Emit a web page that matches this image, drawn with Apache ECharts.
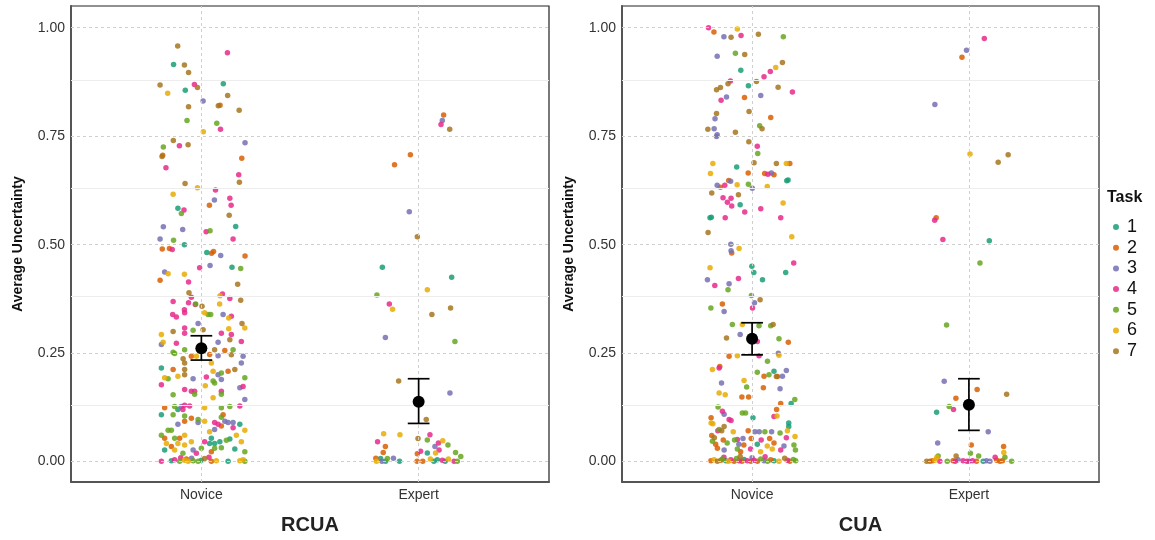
<!DOCTYPE html>
<html>
<head>
<meta charset="utf-8">
<script src="https://cdn.jsdelivr.net/npm/echarts@6/dist/echarts.min.js"></script>
<style>html,body{margin:0;padding:0;background:#fff}#c{width:1155px;height:540px}</style>
</head>
<body>
<div id="c"></div>
<script>
// ---- data ----
const categories = ['Novice', 'Expert'];
const panels = ['RCUA', 'CUA'];
const tasks = ['1', '2', '3', '4', '5', '6', '7'];
const taskColors = ['#1B9E77', '#D95F02', '#7570B3', '#E7298A', '#66A61E', '#E6AB02', '#A6761D'];
const yTicks = [0, 0.25, 0.5, 0.75, 1];
const yMinor = [0.125, 0.375, 0.625, 0.875];

// [jittered x, uncertainty, task]
const rcuaNovice = [
[0.891,0.958,7],[1.120,0.942,4],[0.872,0.915,1],[0.922,0.914,7],[0.941,0.897,7],[0.810,0.868,7],[0.968,0.869,4],[0.982,0.862,7],[1.101,0.871,1],[0.845,0.849,6],[0.926,0.856,1],[1.121,0.844,7],[1.008,0.831,3],[0.941,0.818,7],[1.078,0.820,7],[1.086,0.821,2],[1.174,0.810,7],[0.934,0.786,5],[1.071,0.780,5],[1.088,0.766,4],[1.009,0.760,6],[1.201,0.735,3],[0.871,0.740,7],[0.825,0.725,5],[0.899,0.728,4],[0.939,0.730,7],[0.819,0.703,7],[0.822,0.706,2],[1.186,0.699,2],[0.837,0.677,4],[1.172,0.661,4],[1.175,0.644,7],[0.925,0.641,7],[0.982,0.631,6],[1.065,0.626,4],[0.870,0.616,6],[1.060,0.603,3],[1.131,0.607,4],[1.037,0.591,2],[1.137,0.591,4],[0.892,0.584,1],[0.920,0.580,4],[0.908,0.572,5],[1.128,0.568,7],[0.825,0.541,3],[0.914,0.535,3],[1.158,0.542,1],[1.022,0.530,4],[1.040,0.532,5],[0.810,0.513,3],[0.872,0.510,5],[1.146,0.513,4],[0.922,0.500,1],[0.820,0.490,2],[0.853,0.491,2],[0.866,0.489,4],[1.025,0.482,1],[1.047,0.480,2],[1.056,0.484,2],[1.089,0.475,3],[1.201,0.474,2],[0.992,0.447,4],[1.040,0.452,3],[1.141,0.448,1],[1.181,0.445,5],
[0.831,0.437,3],[0.847,0.433,6],[0.922,0.432,6],[0.810,0.418,2],[0.941,0.414,4],[1.167,0.409,7],[0.943,0.389,7],[0.954,0.379,4],[1.097,0.386,4],[1.086,0.382,6],[1.131,0.376,4],[1.181,0.372,7],[0.941,0.366,4],[0.974,0.363,5],[1.084,0.363,6],
[0.870,0.369,4],[0.972,0.362,4],[1.003,0.358,7],[0.922,0.350,4],[0.868,0.339,4],[0.885,0.333,4],[0.923,0.343,4],[1.015,0.343,6],[1.031,0.339,5],[1.043,0.339,5],[1.100,0.339,3],[1.126,0.331,6],[1.138,0.335,4],[1.187,0.318,7],[1.200,0.308,6],[0.962,0.303,5],[1.008,0.304,7],[0.923,0.308,4],[1.126,0.306,6],[0.985,0.318,3],[0.816,0.293,6],[0.870,0.300,7],[0.923,0.296,4],[1.092,0.296,4],[1.138,0.293,4],[0.824,0.275,6],[0.816,0.270,3],[0.885,0.273,4],[1.077,0.275,3],[1.131,0.281,7],[1.184,0.277,4],[1.061,0.258,7],[1.108,0.256,2],[1.146,0.258,5],[0.923,0.258,5],[0.870,0.252,5],[0.877,0.249,5],[0.954,0.243,2],[0.916,0.237,7],[0.977,0.243,6],[1.038,0.247,2],[1.077,0.244,3],[1.138,0.246,7],[1.192,0.243,3],[1.184,0.227,3],[0.923,0.227,7],[1.046,0.227,6],[0.816,0.216,1],[0.870,0.212,2],[0.923,0.212,7],[1.054,0.208,6],[1.092,0.204,5],[1.123,0.208,2],[1.154,0.212,7],[0.831,0.193,6],[0.847,0.191,5],[0.892,0.197,6],[0.923,0.200,7],[0.962,0.191,3],[1.023,0.195,4],[1.054,0.186,5],[1.077,0.200,3],[1.092,0.189,3],[1.200,0.193,5],[0.816,0.177,4],[1.177,0.170,3],[1.192,0.173,4],[1.018,0.175,6],[1.061,0.181,5],[0.923,0.166,4],[0.954,0.162,4],[0.969,0.162,4],[0.969,0.155,5],[0.870,0.154,5],[1.092,0.162,4],[1.092,0.155,5],[1.200,0.143,3],[1.054,0.147,6],[0.831,0.124,2],[0.877,0.127,5],[0.892,0.120,1],[0.908,0.127,3],[0.923,0.130,4],[0.946,0.128,4],[0.915,0.120,4],[1.015,0.124,6],[1.092,0.124,5],[1.131,0.127,5],[1.177,0.128,4],[0.816,0.108,1],[0.870,0.108,5],[0.923,0.105,5],[0.954,0.100,2],[1.100,0.108,2],[1.092,0.102,5],[0.985,0.097,5],[1.015,0.093,6],[1.061,0.090,4],[1.077,0.086,4],[1.108,0.093,3],[1.123,0.090,3],[1.146,0.090,3],[1.092,0.082,2],[0.985,0.090,3],[0.923,0.093,2],[0.892,0.086,3],[1.177,0.086,1],[1.146,0.078,4],[1.061,0.074,3],[1.038,0.069,6],[1.200,0.072,6],[0.847,0.072,5],[0.862,0.072,5],[0.816,0.061,5],[0.831,0.054,2],[0.877,0.054,5],[0.900,0.054,2],[0.923,0.061,6],[1.046,0.054,1],[1.085,0.046,1],[1.115,0.049,5],[1.131,0.052,1],[1.161,0.061,6],[1.184,0.046,6],[1.015,0.046,4],[1.038,0.042,1],[1.061,0.042,1],[0.839,0.042,6],[0.892,0.042,6],[0.954,0.046,6],[0.923,0.038,6],[0.862,0.035,2],[0.831,0.027,1],[0.877,0.027,6],[0.962,0.027,3],[1.000,0.031,5],[1.061,0.031,5],[1.092,0.032,5],[1.154,0.029,1],[1.200,0.023,5],[0.915,0.019,5],[0.977,0.019,4],[1.046,0.023,2],
[0.816,0.001,4],[0.862,0.002,1],[0.877,0.004,4],[0.900,0.001,5],[0.923,0.003,6],[0.939,0.001,6],[0.962,0.002,5],[0.985,0.001,5],[1.000,0.003,1],[1.046,0.001,2],[1.069,0.002,6],[1.123,0.001,1],[1.177,0.002,6],[1.192,0.004,6],[1.200,0.001,5],[0.931,0.006,2],[0.955,0.008,3],[0.905,0.009,4],[1.015,0.007,7],[1.035,0.010,4]
];
const rcuaExpert = [
[2.115,0.799,2],[2.109,0.786,3],[2.103,0.777,4],[2.143,0.766,7],[1.962,0.707,2],[1.889,0.684,2],[1.957,0.576,3],[1.994,0.518,7],[1.833,0.448,1],
[2.152,0.425,1],[1.808,0.384,5],[2.040,0.396,6],[1.865,0.363,4],[1.880,0.351,6],[2.061,0.339,7],[2.147,0.354,7],[1.847,0.286,3],[2.167,0.277,5],[1.908,0.186,7],[2.144,0.158,3],[2.035,0.097,7],
[1.839,0.064,6],[1.914,0.062,6],[2.052,0.062,4],[1.997,0.053,7],[2.040,0.050,5],[1.811,0.046,4],[2.111,0.048,6],[2.091,0.043,4],[2.135,0.038,5],[1.847,0.035,2],[2.075,0.035,3],[2.094,0.027,4],[1.837,0.021,2],[2.009,0.024,4],[1.994,0.018,2],[2.040,0.020,1],[2.078,0.020,6],[2.170,0.021,5],[2.194,0.012,5],
[1.803,0.008,2],[1.825,0.007,1],[1.856,0.007,5],[1.884,0.008,3],[1.806,0.001,6],[1.831,0.001,3],[1.848,0.001,1],[1.912,0.001,1],[1.993,0.001,2],[2.019,0.001,2],[2.054,0.006,6],[2.070,0.001,1],[2.086,0.004,1],[2.109,0.003,4],[2.137,0.006,6],[2.163,0.001,4],[2.178,0.001,5],[2.122,0.001,1]
];
const cuaNovice = [
[0.799,1.000,4],[0.824,0.990,2],[0.870,0.979,3],[0.903,0.978,7],[0.932,0.997,6],[0.949,0.982,4],[1.029,0.985,7],[1.144,0.979,5],[0.839,0.934,3],[0.923,0.941,5],[0.966,0.938,7],[0.948,0.902,1],[1.140,0.920,7],[1.109,0.908,6],[1.084,0.899,4],[1.055,0.887,4],[1.020,0.876,7],[0.900,0.877,4],[0.889,0.871,7],[0.983,0.866,1],[1.120,0.863,7],[0.854,0.862,7],[0.836,0.857,7],[1.186,0.852,4],[0.882,0.840,3],[0.965,0.839,2],[1.040,0.844,3],[0.857,0.833,4],[0.986,0.807,7],[0.836,0.802,7],[1.086,0.793,2],[0.829,0.790,3],[1.035,0.774,5],[1.046,0.767,7],[0.796,0.766,7],[0.825,0.767,3],[0.839,0.753,3],[0.836,0.749,3],[0.923,0.759,7],[0.985,0.737,7],[1.024,0.727,4],[1.026,0.710,5],
[0.819,0.687,6],[1.009,0.689,7],[1.112,0.687,7],[1.158,0.687,6],[1.174,0.687,2],[0.929,0.679,1],[0.808,0.664,6],[0.982,0.665,2],[1.058,0.664,2],[1.073,0.662,4],[1.089,0.665,3],[1.101,0.661,2],[1.160,0.647,1],[1.166,0.649,1],[0.839,0.637,3],[0.854,0.632,2],[0.874,0.637,4],[0.892,0.648,2],[0.901,0.646,3],[0.931,0.638,6],[0.983,0.639,5],[1.001,0.630,3],[1.070,0.634,6],[0.814,0.619,7],[0.937,0.615,7],[0.866,0.608,4],[0.886,0.598,4],[0.903,0.607,4],[0.906,0.589,4],[0.945,0.592,1],[1.040,0.583,4],[1.143,0.596,6],[0.966,0.575,4],[0.806,0.562,1],[0.812,0.563,1],[0.876,0.562,4],[1.132,0.562,4],[0.797,0.528,7],[1.183,0.518,6],[0.902,0.501,3],[0.940,0.491,6],[0.903,0.486,3],[0.906,0.481,2],[0.999,0.450,1],[1.192,0.458,4],[0.806,0.447,6],
[1.008,0.436,1],[1.155,0.436,1],[0.794,0.419,3],[0.937,0.422,4],[1.048,0.419,1],[0.828,0.406,4],[0.894,0.410,3],[0.889,0.396,5],[0.997,0.383,5],[1.011,0.366,3],[1.037,0.373,7],[0.863,0.363,2],
[0.810,0.354,5],[0.871,0.346,3],[1.002,0.354,4],[0.909,0.316,5],[0.955,0.316,6],[1.032,0.313,5],[1.086,0.313,5],[1.097,0.316,7],[0.945,0.293,3],[0.882,0.285,7],[1.024,0.277,4],[1.124,0.283,5],[1.167,0.275,2],[0.894,0.243,2],[0.932,0.244,6],[1.032,0.244,4],[1.121,0.250,3],[1.124,0.245,6],[1.071,0.231,5],[0.817,0.212,6],[0.848,0.216,4],[0.851,0.219,2],[1.024,0.206,5],[1.055,0.197,2],[1.078,0.200,5],[1.101,0.208,1],[1.112,0.196,7],[1.117,0.196,2],[1.140,0.197,3],[1.158,0.210,3],[0.859,0.181,3],[0.963,0.187,6],[0.975,0.172,5],[1.052,0.170,2],[1.129,0.168,3],[0.848,0.158,6],[0.876,0.154,6],[0.953,0.149,2],[0.984,0.149,2],[1.132,0.134,2],[1.180,0.134,1],[1.197,0.143,5],[0.843,0.126,5],[0.863,0.116,4],[0.871,0.109,3],[0.955,0.112,5],[0.970,0.112,5],[1.113,0.120,2],[1.101,0.104,4],[1.115,0.105,6],[1.004,0.101,1],[0.811,0.101,2],[0.894,0.097,4],[0.903,0.095,4],[0.811,0.089,6],[0.819,0.087,6],[1.169,0.089,1],[1.169,0.081,1],[0.871,0.081,7],[0.848,0.074,5],[0.860,0.071,7],[0.913,0.069,6],[0.982,0.071,2],[1.013,0.069,3],[1.033,0.069,3],[1.059,0.069,5],[1.090,0.069,3],[1.129,0.066,5],[1.163,0.071,6],[1.198,0.058,6],[0.842,0.071,4],[0.814,0.060,2],[0.826,0.055,7],[0.867,0.050,2],[0.919,0.050,5],[0.932,0.051,4],[0.958,0.053,3],[0.996,0.053,2],[1.042,0.050,4],[1.081,0.053,2],[1.158,0.055,4],[0.817,0.047,5],[0.832,0.040,2],[0.885,0.043,5],[0.939,0.040,3],[0.962,0.038,2],[1.024,0.040,1],[1.070,0.036,6],[1.101,0.043,2],[1.147,0.036,3],[1.193,0.038,5],[0.840,0.031,2],[0.871,0.027,3],[0.932,0.029,5],[0.993,0.029,4],[1.093,0.029,6],[1.132,0.027,4],[1.200,0.027,5],[0.947,0.023,2],[1.039,0.023,6],
[0.810,0.002,2],[0.825,0.004,6],[0.840,0.001,7],[0.856,0.003,2],[0.863,0.006,5],[0.879,0.002,1],[0.891,0.001,6],[0.902,0.004,4],[0.917,0.001,2],[0.928,0.007,5],[0.940,0.002,4],[0.953,0.001,2],[0.963,0.005,1],[0.978,0.002,4],[0.994,0.001,2],[1.009,0.003,4],[1.025,0.001,2],[1.040,0.006,5],[1.055,0.002,3],[1.071,0.001,5],[1.086,0.004,2],[1.101,0.002,1],[1.124,0.001,6],[1.163,0.003,4],[1.174,0.001,2],[1.190,0.005,5],[1.201,0.002,5],[0.870,0.010,4],[0.945,0.012,7],[1.000,0.009,3],[1.060,0.011,4],[1.150,0.008,7]
];
const cuaExpert = [
[2.071,0.975,4],[1.989,0.948,3],[1.968,0.932,2],[1.843,0.823,3],[2.005,0.709,6],[2.181,0.707,7],[2.135,0.690,7],[1.849,0.562,2],[1.842,0.556,4],[1.880,0.512,4],[2.094,0.509,1],[2.051,0.458,5],
[1.897,0.315,5],[1.886,0.185,3],[2.038,0.166,2],[2.174,0.155,7],[1.940,0.146,2],[1.909,0.127,5],[1.929,0.120,4],[1.851,0.114,1],[2.089,0.069,3],[1.856,0.043,3],[2.011,0.038,2],[2.160,0.035,2],[2.161,0.021,6],[2.007,0.019,5],[2.045,0.013,5],[1.858,0.013,5],[1.852,0.010,6],[1.941,0.013,7],[2.166,0.010,5],[2.121,0.010,4],
[1.805,0.001,7],[1.820,0.001,2],[1.832,0.002,2],[1.843,0.003,6],[1.866,0.001,4],[1.900,0.001,5],[1.927,0.002,2],[1.937,0.001,4],[1.950,0.004,3],[1.973,0.002,4],[1.991,0.001,4],[2.001,0.001,3],[2.017,0.002,4],[2.035,0.001,2],[2.066,0.001,1],[2.081,0.002,3],[2.097,0.001,3],[2.128,0.003,2],[2.143,0.001,2],[2.155,0.002,2],[2.197,0.001,5]
];
// [x, mean, lower, upper]
const rcuaMeans = [[1, 0.261, 0.234, 0.290], [2, 0.138, 0.088, 0.191]];
const cuaMeans = [[1, 0.283, 0.246, 0.320], [2, 0.131, 0.072, 0.191]];

// ---- chart ----
const FONT = 'Liberation Sans, Arial, Helvetica, sans-serif';
const groups = [rcuaNovice.concat(rcuaExpert), cuaNovice.concat(cuaExpert)];
const meansList = [rcuaMeans, cuaMeans];
const grids = [
  {left: 71, top: 6, width: 478, height: 476},
  {left: 622, top: 6, width: 477, height: 476}
];
grids.forEach(g => { g.show = true; g.borderColor = '#222'; g.borderWidth = 1.2; g.backgroundColor = '#fff'; });

const xAxes = [], yAxes = [], series = [];
panels.forEach((p, gi) => {
  xAxes.push({
    type: 'value', gridIndex: gi, min: 0.4, max: 2.6,
    name: p, nameLocation: 'middle', nameGap: 33,
    nameTextStyle: {fontFamily: FONT, fontWeight: 'bold', fontSize: 20, color: '#222'},
    axisLine: {show: true, onZero: false, lineStyle: {color: '#555', width: 2}},
    axisTick: {show: false}, splitLine: {show: false},
    axisLabel: {customValues: [1, 2], formatter: v => categories[Math.round(v) - 1], fontFamily: FONT, fontSize: 14, color: '#333', margin: 6}
  });
  yAxes.push({
    type: 'value', gridIndex: gi, min: -0.047, max: 1.05,
    name: 'Average Uncertainty', nameLocation: 'middle', nameGap: 46,
    nameTextStyle: {fontFamily: FONT, fontWeight: 'bold', fontSize: 14, color: '#111'},
    axisLine: {show: true, lineStyle: {color: '#555', width: 2}},
    axisTick: {show: false}, splitLine: {show: false},
    axisLabel: {customValues: yTicks, formatter: v => v.toFixed(2), fontFamily: FONT, fontSize: 14, color: '#333', margin: 6}
  });
  // gridlines
  const lines = [];
  yMinor.forEach(v => lines.push({yAxis: v, lineStyle: {color: '#ededed', width: 1, type: 'solid'}}));
  yTicks.forEach(v => lines.push({yAxis: v, lineStyle: {color: '#cfcfcf', width: 1, type: [3, 3]}}));
  [1, 2].forEach(v => lines.push({xAxis: v, lineStyle: {color: '#cfcfcf', width: 1, type: [3, 3]}}));
  series.push({
    type: 'scatter', xAxisIndex: gi, yAxisIndex: gi, data: [], silent: true, z: 1,
    markLine: {silent: true, symbol: ['none', 'none'], label: {show: false}, animation: false, data: lines}
  });
  tasks.forEach((t, ti) => {
    series.push({
      name: t, type: 'scatter', xAxisIndex: gi, yAxisIndex: gi, z: 2,
      symbolSize: 5.5,
      itemStyle: {color: taskColors[ti], opacity: 0.85},
      data: groups[gi].filter(d => d[2] === ti + 1).map(d => [d[0], d[1]])
    });
  });
  series.push({
    type: 'custom', xAxisIndex: gi, yAxisIndex: gi, z: 5, silent: true,
    data: meansList[gi],
    renderItem: (params, api) => {
      const x = api.value(0);
      const lo = api.coord([x, api.value(2)]);
      const hi = api.coord([x, api.value(3)]);
      const hw = api.size([0.05, 0])[0];
      const st = {stroke: '#000', lineWidth: 1.7};
      return {type: 'group', children: [
        {type: 'line', shape: {x1: lo[0], y1: lo[1], x2: hi[0], y2: hi[1]}, style: st},
        {type: 'line', shape: {x1: lo[0] - hw, y1: lo[1], x2: lo[0] + hw, y2: lo[1]}, style: st},
        {type: 'line', shape: {x1: hi[0] - hw, y1: hi[1], x2: hi[0] + hw, y2: hi[1]}, style: st}
      ]};
    }
  });
  series.push({
    type: 'scatter', xAxisIndex: gi, yAxisIndex: gi, z: 6, silent: true,
    symbolSize: 12, itemStyle: {color: '#000', opacity: 1},
    data: meansList[gi].map(d => [d[0], d[1]])
  });
});

const chart = echarts.init(document.getElementById('c'));
chart.setOption({
  animation: false,
  backgroundColor: '#fff',
  grid: grids,
  xAxis: xAxes,
  yAxis: yAxes,
  legend: {
    data: tasks, orient: 'vertical', left: 1108, top: 212,
    icon: 'circle', itemWidth: 6, itemHeight: 6, itemGap: 0.7,
    textStyle: {fontFamily: FONT, fontSize: 18, color: '#111', lineHeight: 20, padding: [0, 0, 0, 3]},
    selectedMode: false
  },
  graphic: [{
    type: 'text', left: 1107, top: 190,
    style: {text: 'Task', font: 'bold 16px ' + FONT, fill: '#111'}
  }],
  series: series
});
</script>
</body>
</html>
